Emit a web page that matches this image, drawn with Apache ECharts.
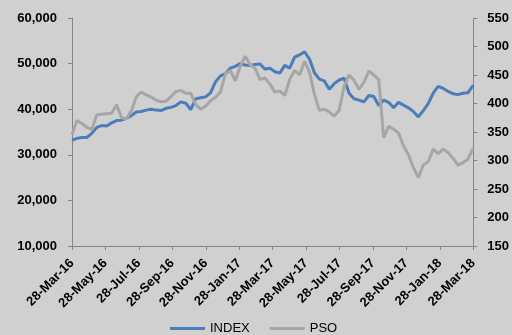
<!DOCTYPE html>
<html>
<head>
<meta charset="utf-8">
<script src="https://cdn.jsdelivr.net/npm/echarts@6/dist/echarts.min.js"></script>
<style>
html,body{margin:0;padding:0;background:#d0d0d0;}
#c{width:512px;height:335px;}
</style>
</head>
<body>
<div id="c"></div>
<script>
// days since 28-Mar-16
const days = [0,9,18,27,36,45,54,63,72,81,90,99,108,117,126,135,144,153,162,171,180,189,198,207,216,225,234,243,252,261,270,279,288,297,306,315,324,333,342,351,360,369,378,387,396,405,414,423,432,441,450,459,468,477,486,495,504,513,522,531,540,549,558,567,576,585,594,603,612,621,630,639,648,657,666,675,684,693,702,711,720,730];
const indexValues = [33200,33600,33800,33800,34700,36000,36400,36300,37000,37500,
37600,38000,38600,39400,39500,39800,40000,39800,39700,40200,
40400,40800,41600,41300,39900,42300,42500,42700,43600,46000,
47300,47800,49000,49400,50000,49700,49600,49800,49900,48800,
49000,48200,47900,49600,49000,51400,51900,52600,51000,48000,
46600,46200,44400,45600,46400,46800,43500,42300,42000,41600,
43000,42800,40800,42000,41500,40300,41500,40900,40300,39500,
38300,39700,41200,43500,45000,44600,43900,43400,43200,43500,
43600,45300];
const psoValues = [345,370,365,358,354,380,381,382,383,398,
375,373,387,412,420,415,411,406,403,404,
412,421,423,418,418,398,390,395,405,411,
420,452,458,440,465,483,468,462,442,445,
434,420,422,414,442,458,450,474,455,416,
388,390,385,378,388,430,450,441,425,437,
457,450,442,340,360,355,348,326,310,288,
270,292,298,320,312,320,314,304,292,296,
302,322];
const xTickLabels = ['28-Mar-16','28-May-16','28-Jul-16','28-Sep-16','28-Nov-16','28-Jan-17','28-Mar-17','28-May-17','28-Jul-17','28-Sep-17','28-Nov-17','28-Jan-18','28-Mar-18'];
const totalDays = 730;

const toMonths = d => d / totalDays * 24;
const indexData = days.map((d,i)=>[toMonths(d), indexValues[i]]);
const psoData = days.map((d,i)=>[toMonths(d), psoValues[i]]);

const axisCol = '#868686';
const lblFont = {color:'#000', fontWeight:'bold', fontSize:13, fontFamily:'Liberation Sans, Arial, sans-serif'};

const chart = echarts.init(document.getElementById('c'));
chart.setOption({
  backgroundColor:'#d0d0d0',
  animation:false,
  grid:{left:72, right:32, top:18, bottom:89},
  legend:{
    left:165, top:317, itemWidth:35, itemHeight:3, itemGap:20, icon:'rect',
    textStyle:{color:'#000', fontSize:13, fontFamily:'Liberation Sans, Arial, sans-serif'},
    data:['INDEX','PSO']
  },
  xAxis:{
    type:'value', min:0, max:24, interval:2,
    axisLine:{show:true, lineStyle:{color:axisCol}},
    axisTick:{show:true, length:4, lineStyle:{color:axisCol}},
    splitLine:{show:false},
    axisLabel:Object.assign({rotate:45, margin:15, formatter:v=>xTickLabels[Math.round(v/2)]}, lblFont)
  },
  yAxis:[{
    type:'value', min:10000, max:60000, interval:10000,
    axisLine:{show:true, lineStyle:{color:axisCol}},
    axisTick:{show:true, length:4, lineStyle:{color:axisCol}},
    splitLine:{show:false},
    axisLabel:Object.assign({margin:15, formatter:v=>v.toLocaleString('en-US')}, lblFont)
  },{
    type:'value', min:150, max:550, interval:50, position:'right',
    axisLine:{show:true, lineStyle:{color:axisCol}},
    axisTick:{show:true, length:4, lineStyle:{color:axisCol}},
    splitLine:{show:false},
    axisLabel:Object.assign({margin:14}, lblFont)
  }],
  series:[{
    name:'INDEX', type:'line', yAxisIndex:0, data:indexData, showSymbol:false, symbol:'none',
    lineStyle:{color:'#4a7ebb', width:3}, itemStyle:{color:'#4a7ebb'}, z:2
  },{
    name:'PSO', type:'line', yAxisIndex:1, data:psoData, showSymbol:false, symbol:'none',
    lineStyle:{color:'#a6a6a6', width:3}, itemStyle:{color:'#a6a6a6'}, z:3
  }]
});
</script>
</body>
</html>
